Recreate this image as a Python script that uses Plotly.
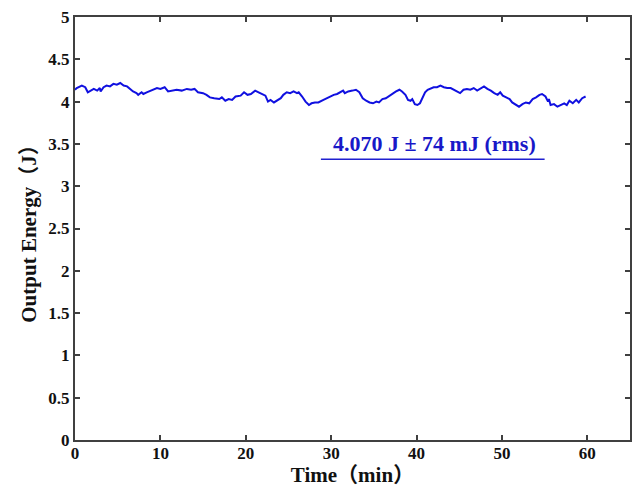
import plotly.graph_objects as go

# Pulse energy log over one hour of operation
time_min = [0.0, 0.2, 0.8, 1.2, 1.5, 1.8, 2.2, 2.6, 2.9, 3.0, 3.35, 3.7, 4.1, 4.5, 4.9,
            5.3, 5.7, 6.1, 6.5, 6.8, 7.2, 7.4, 7.8, 8.0, 8.4, 9.0, 9.6, 10.0, 10.5,
            10.9, 11.3, 11.9, 12.5, 13.1, 13.6, 14.0, 14.4, 15.0, 15.4, 15.8, 16.3,
            16.9, 17.2, 17.6, 18.0, 18.4, 18.8, 19.4, 19.8, 20.2, 20.6, 21.1, 21.5,
            21.9, 22.3, 22.6, 22.9, 23.3, 23.7, 24.1, 24.4, 24.8, 25.2, 25.6, 26.0,
            26.2, 26.6, 27.0, 27.4, 27.7, 28.1, 28.5, 29.1, 29.5, 29.9, 30.3, 30.7,
            31.0, 31.4, 31.6, 32.0, 32.5, 32.9, 33.3, 33.7, 34.1, 34.5, 34.9, 35.3,
            35.6, 36.0, 36.4, 36.8, 37.2, 37.6, 38.0, 38.3, 38.7, 39.0, 39.3, 39.5,
            39.8, 40.1, 40.4, 40.7, 41.0, 41.3, 41.7, 42.0, 42.4, 42.8, 43.2, 43.6,
            44.0, 44.4, 44.8, 45.1, 45.5, 45.9, 46.3, 46.7, 47.1, 47.5, 47.9, 48.3,
            48.7, 49.1, 49.5, 49.8, 50.1, 50.5, 50.9, 51.2, 51.6, 52.0, 52.4, 52.8,
            53.2, 53.6, 54.0, 54.4, 54.7, 55.1, 55.4, 55.5, 55.7, 56.1, 56.5, 56.9,
            57.3, 57.6, 57.9, 58.3, 58.7, 59.0, 59.4, 59.8]

energy_j = [4.14, 4.16, 4.19, 4.17, 4.11, 4.13, 4.15, 4.13, 4.16, 4.12, 4.17, 4.19, 4.18,
            4.21, 4.20, 4.22, 4.19, 4.18, 4.14, 4.12, 4.10, 4.08, 4.11, 4.09, 4.11,
            4.14, 4.16, 4.15, 4.17, 4.12, 4.13, 4.14, 4.13, 4.15, 4.14, 4.15, 4.11,
            4.10, 4.08, 4.05, 4.04, 4.03, 4.05, 4.01, 4.03, 4.02, 4.06, 4.07, 4.11,
            4.08, 4.09, 4.13, 4.11, 4.09, 4.07, 4.00, 4.02, 3.99, 4.01, 4.04, 4.08,
            4.11, 4.10, 4.12, 4.10, 4.11, 4.06, 4.00, 3.96, 3.98, 3.99, 3.99, 4.02,
            4.04, 4.06, 4.08, 4.09, 4.11, 4.13, 4.10, 4.12, 4.13, 4.14, 4.11, 4.04,
            4.01, 3.99, 3.98, 4.00, 3.99, 4.03, 4.04, 4.07, 4.10, 4.12, 4.14, 4.12,
            4.08, 4.02, 4.01, 4.03, 3.97, 3.96, 3.98, 4.04, 4.11, 4.14, 4.16, 4.17,
            4.17, 4.19, 4.17, 4.16, 4.16, 4.14, 4.12, 4.10, 4.14, 4.15, 4.14, 4.16,
            4.13, 4.16, 4.18, 4.15, 4.13, 4.10, 4.08, 4.11, 4.07, 4.05, 4.03, 3.99,
            3.96, 3.94, 3.97, 3.99, 3.98, 4.03, 4.05, 4.08, 4.09, 4.06, 4.00, 4.03,
            3.96, 3.97, 3.94, 3.96, 3.98, 3.96, 4.01, 3.98, 4.02, 3.99, 4.04, 4.06]

x_ticks = [0, 10, 20, 30, 40, 50, 60]
y_ticks = [0, 0.5, 1, 1.5, 2, 2.5, 3, 3.5, 4, 4.5, 5]
y_tick_text = ["0", "0.5", "1", "1.5", "2", "2.5", "3", "3.5", "4", "4.5", "5"]

stats_label = "4.070 J ± 74 mJ (rms)"

serif = "Liberation Serif, Times New Roman, Noto Sans CJK SC, serif"
frame = "#404040"
blue = "#1010e0"

fig = go.Figure()
fig.add_trace(go.Scatter(
    x=time_min, y=energy_j, mode="lines",
    line=dict(color=blue, width=2),
    showlegend=False, hoverinfo="skip",
))

axis_common = dict(
    showline=True, linecolor=frame, linewidth=2, mirror="ticks",
    ticks="inside", ticklen=5, tickwidth=1.5, tickcolor=frame,
    showgrid=False, zeroline=False,
    tickfont=dict(family=serif, size=17, color="#111111", weight="bold"),
)

fig.update_layout(
    width=636, height=489,
    margin=dict(l=75, r=4, t=17, b=49),
    paper_bgcolor="white", plot_bgcolor="white",
    xaxis=dict(
        range=[0, 65], tickvals=x_ticks, ticklabelstandoff=-3,
        title=dict(text="Time（min）", standoff=4,
                   font=dict(family=serif, size=21, color="#111111", weight="bold")),
        **axis_common,
    ),
    yaxis=dict(
        range=[0, 5], tickvals=y_ticks, ticktext=y_tick_text,
        title=dict(text="Output Energy（J）", standoff=6,
                   font=dict(family=serif, size=21, color="#111111", weight="bold")),
        **axis_common,
    ),
    annotations=[dict(
        x=42.1, y=3.5, xref="x", yref="y", text=stats_label, showarrow=False,
        font=dict(family=serif, size=22, color="#1818c8", weight="bold"),
    )],
    shapes=[dict(
        type="line", xref="x", yref="y", x0=28.8, x1=55.0, y0=3.318, y1=3.318,
        line=dict(color="#2020d0", width=1.5),
    )],
)

fig.write_html("out.html")
